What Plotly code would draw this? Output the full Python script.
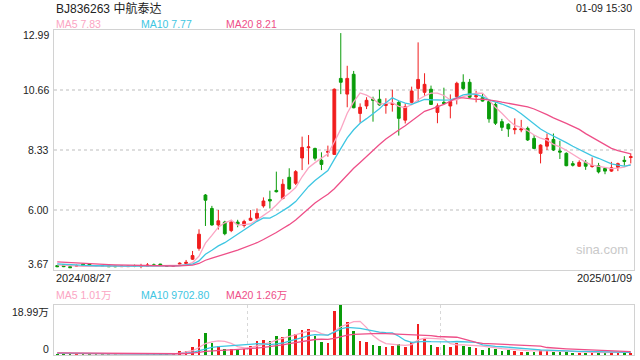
import plotly.graph_objects as go
import pandas as pd

# ---------------- data ----------------
title_text = "BJ836263 中航泰达"
time_text = "01-09 15:30"
date_labels = ["2024/08/27", "2025/01/09"]
price_ticks = [12.99, 10.66, 8.33, 6.00, 3.67]
vol_tick_labels = ["18.99万", "0"]
ma_price_text = ["MA5 7.83", "MA10 7.77", "MA20 8.21"]
ma_vol_text = ["MA5 1.01万", "MA10 9702.80", "MA20 1.26万"]

open_ = [3.84, 3.87, 3.80, 3.82, 3.90, 3.90, 3.84, 3.83, 3.83, 3.82,
         3.80, 3.80, 3.82, 3.81, 3.82, 3.87, 3.90, 3.84, 3.82, 3.90,
         3.92, 4.09, 4.51, 6.58, 6.06, 5.42, 5.53, 5.20, 5.53, 5.40,
         5.60, 5.68, 6.16, 6.41, 6.76, 6.45, 7.27, 7.04, 8.02, 8.42,
         8.39, 7.93, 8.24, 8.16, 11.11, 10.50, 11.27, 9.75, 10.04, 10.31,
         10.30, 10.06, 10.10, 10.18, 9.49, 10.18, 10.72, 10.57, 10.69, 9.79,
         10.18, 10.04, 10.40, 10.96, 10.96, 10.40, 10.36, 10.21, 10.10, 9.43,
         9.33, 9.12, 9.11, 9.17, 8.78, 8.20, 8.48, 8.74, 8.29, 8.20,
         7.80, 7.70, 7.85, 7.69, 7.72, 7.61, 7.51, 7.66, 7.93, 8.04]
high = [3.86, 3.88, 3.81, 3.88, 3.92, 3.91, 3.86, 3.85, 3.84, 3.83,
        3.83, 3.83, 3.88, 3.91, 3.94, 3.92, 3.91, 3.86, 3.86, 3.97,
        4.06, 4.41, 5.25, 6.62, 6.16, 6.00, 5.58, 5.62, 5.62, 5.62,
        6.00, 6.06, 6.49, 6.75, 7.49, 7.20, 7.62, 7.55, 8.85, 8.91,
        8.42, 8.24, 8.50, 10.72, 12.87, 11.60, 11.40, 10.14, 10.38, 10.40,
        10.67, 10.34, 10.67, 10.23, 10.13, 10.79, 12.51, 11.31, 10.83, 10.14,
        10.75, 10.49, 10.98, 11.27, 11.09, 10.62, 10.53, 10.27, 10.18, 9.54,
        9.37, 9.56, 9.50, 9.24, 8.91, 8.55, 8.97, 8.97, 8.69, 8.24,
        7.90, 7.93, 7.94, 8.04, 7.83, 7.64, 7.87, 7.84, 8.09, 8.20]
low = [3.78, 3.78, 3.75, 3.80, 3.83, 3.82, 3.81, 3.80, 3.79, 3.78,
       3.79, 3.79, 3.78, 3.74, 3.81, 3.83, 3.84, 3.80, 3.80, 3.89,
       3.90, 4.06, 4.42, 5.38, 5.39, 5.24, 5.02, 5.14, 5.33, 5.32,
       5.57, 5.59, 6.09, 6.06, 6.68, 6.41, 6.78, 6.97, 7.55, 7.77,
       7.92, 7.55, 8.07, 8.16, 10.50, 9.99, 9.95, 9.39, 9.92, 9.43,
       10.05, 9.74, 9.82, 8.89, 9.36, 10.14, 10.20, 10.43, 10.08, 9.37,
       10.10, 9.56, 10.10, 10.66, 10.34, 10.18, 10.21, 9.39, 9.30, 9.07,
       8.84, 8.94, 9.02, 8.68, 8.36, 7.81, 8.33, 8.29, 7.98, 7.70,
       7.69, 7.67, 7.56, 7.64, 7.42, 7.39, 7.48, 7.51, 7.72, 7.81]
close = [3.80, 3.80, 3.76, 3.84, 3.84, 3.84, 3.83, 3.82, 3.80, 3.80,
         3.82, 3.82, 3.81, 3.82, 3.86, 3.85, 3.85, 3.82, 3.84, 3.93,
         3.97, 4.23, 5.06, 6.38, 5.42, 5.58, 5.08, 5.53, 5.45, 5.55,
         5.68, 5.87, 6.35, 6.35, 6.71, 7.00, 6.82, 7.49, 8.43, 8.45,
         8.01, 7.77, 8.27, 10.69, 10.96, 11.11, 9.97, 9.99, 10.26, 10.26,
         10.08, 10.10, 10.14, 9.56, 10.01, 10.62, 11.07, 10.88, 10.10, 10.04,
         10.14, 10.21, 10.92, 10.72, 10.38, 10.44, 10.23, 9.54, 9.37, 9.21,
         9.15, 9.16, 9.15, 8.72, 8.39, 8.52, 8.78, 8.33, 8.25, 7.72,
         7.74, 7.85, 7.70, 7.72, 7.48, 7.51, 7.64, 7.80, 7.89, 8.07]
volume = [5000, 3800, 2500, 10000, 3800, 5000, 2500, 2500, 3800, 2500,
          2500, 2500, 2500, 5000, 3800, 2500, 3800, 2500, 10000, 17500,
          17500, 32600, 62600, 85200, 48900, 35100, 25000, 25000, 25000, 25000,
          37600, 55100, 58900, 55100, 73900, 70200, 100200, 80200, 96500, 100200,
          73900, 51400, 48900, 167900, 189900, 126600, 92700, 55100, 51400, 40100,
          36300, 32600, 36300, 43900, 32600, 51400, 120300, 66400, 40100, 32600,
          40100, 32600, 47600, 36300, 32600, 28800, 21300, 28800, 25100, 17500,
          19000, 16000, 13000, 15000, 12000, 22000, 16000, 15000, 13000, 14000,
          10500, 8000, 9000, 10000, 9000, 9000, 10500, 9500, 11000, 10500]
# closes / volumes of the 19 sessions before the window (needed for the MAs)
prior_close = [4.12, 4.10, 4.08, 4.10, 4.06, 4.05, 4.03, 4.04, 4.00, 3.98,
               3.97, 3.96, 3.95, 3.94, 3.92, 3.90, 3.89, 3.88, 3.87]
prior_volume = [9000, 8500, 9500, 8000, 9000, 8500, 8000, 9000, 8500, 8000,
                7500, 8000, 7000, 7500, 7000, 6500, 7000, 6000, 6500]

# ---------------- derived ----------------
n = len(close)
idx = list(range(n))
c_all = pd.Series(prior_close + close)
v_all = pd.Series(prior_volume + volume)
np_ = len(prior_close)
ma_p = {k: c_all.rolling(k, min_periods=1).mean().tolist()[np_:] for k in (5, 10, 20)}
ma_v = {k: v_all.rolling(k, min_periods=1).mean().tolist()[np_:] for k in (5, 10, 20)}

RED = "#f01d1d"
GREEN = "#0a9c0a"
MA_COLORS = {5: "#fba5c3", 10: "#3ec6e2", 20: "#ee4f88"}
FONT = "Liberation Sans, Arial, Noto Sans CJK SC, sans-serif"

vol_colors = [RED if c >= o else GREEN for o, c in zip(open_, close)]

fig = go.Figure()
fig.add_trace(go.Candlestick(
    x=idx, open=open_, high=high, low=low, close=close,
    increasing=dict(line=dict(color=RED, width=1), fillcolor=RED),
    decreasing=dict(line=dict(color=GREEN, width=1), fillcolor=GREEN),
    whiskerwidth=0, xaxis="x", yaxis="y", showlegend=False, hoverinfo="skip"))
for k in (5, 10, 20):
    fig.add_trace(go.Scatter(x=idx, y=ma_p[k], mode="lines",
                             line=dict(color=MA_COLORS[k], width=1.3),
                             xaxis="x", yaxis="y", showlegend=False, hoverinfo="skip"))
fig.add_trace(go.Bar(x=idx, y=volume, marker=dict(color=vol_colors, line=dict(width=0)),
                     width=0.42, xaxis="x2", yaxis="y2", showlegend=False, hoverinfo="skip"))
for k in (5, 10, 20):
    fig.add_trace(go.Scatter(x=idx, y=ma_v[k], mode="lines",
                             line=dict(color=MA_COLORS[k], width=1.3),
                             xaxis="x2", yaxis="y2", showlegend=False, hoverinfo="skip"))

H_PLOT = 325.0  # plot area height in px (360 - 30 - 5)
def py(pix):
    return (355.0 - pix) / H_PLOT
def px(pix):
    return (pix - 54.0) / 580.0

border = "#d2d2d2"
fig.update_layout(
    width=640, height=360,
    margin=dict(l=54, r=6, t=30, b=5),
    paper_bgcolor="white", plot_bgcolor="white",
    boxgap=0.38,
    bargap=0,
    font=dict(family=FONT, size=10.5, color="#222"),
    xaxis=dict(domain=[0, 1], anchor="y", range=[-0.5, n - 0.5], showticklabels=False,
               showgrid=False, zeroline=False, showline=True, mirror=True,
               linecolor=border, linewidth=1, rangeslider=dict(visible=False), fixedrange=True),
    yaxis=dict(domain=[py(270), 1], anchor="x", range=[price_ticks[-1], price_ticks[0]],
               tickvals=price_ticks[1:-1], showticklabels=False, ticks="",
               showgrid=True, gridcolor="#dedede", griddash="dot", gridwidth=1.5,
               zeroline=False, showline=True, mirror=True, linecolor=border, linewidth=1),
    xaxis2=dict(domain=[0, 1], anchor="y2", range=[-0.5, n - 0.5], showticklabels=False,
                tickvals=[29.5, 59.5], ticks="", showgrid=True, gridcolor="#d8d8d8",
                griddash="dot", gridwidth=1, zeroline=False, showline=True, mirror=True,
                linecolor=border, linewidth=1),
    yaxis2=dict(domain=[0, py(304.5)], anchor="x2", range=[0, max(volume)],
                showticklabels=False, showgrid=False, zeroline=False, showline=True,
                mirror=True, linecolor=border, linewidth=1),
)

ann = []
def add(text, x, y, xanchor="left", yanchor="middle", color="#222", size=10.5):
    ann.append(dict(text=text, x=x, y=y, xref="paper", yref="paper", xanchor=xanchor,
                    yanchor=yanchor, showarrow=False, font=dict(family=FONT, size=size, color=color)))

add(title_text, px(54), py(8.5), size=12)
add(time_text, px(634), py(7.5), xanchor="right")
for t, xpos, k in zip(ma_price_text, (54, 139, 224), (5, 10, 20)):
    add(t, px(xpos), py(24), color=MA_COLORS[k])
for t, xpos, k in zip(ma_vol_text, (54, 139, 224), (5, 10, 20)):
    add(t, px(xpos), py(295), color=MA_COLORS[k])
price_label_y = [35, 90, 150, 210, 263.5]
for v, yy in zip(price_ticks, price_label_y):
    add(f"{v:.2f}", px(51), py(yy), xanchor="right")
add(vol_tick_labels[0], px(51), py(311.5), xanchor="right")
add(vol_tick_labels[1], px(51), py(349), xanchor="right")
add(date_labels[0], px(54), py(277.5), size=11)
add(date_labels[1], px(634), py(277.5), xanchor="right", size=11)
add("sina.com", px(602), py(249), xanchor="center", color="#c9c9c9", size=13)
fig.update_layout(annotations=ann)

fig.write_html("out.html", config={"displayModeBar": False},
               post_script="document.body.style.margin='0';document.body.style.overflow='hidden';")
